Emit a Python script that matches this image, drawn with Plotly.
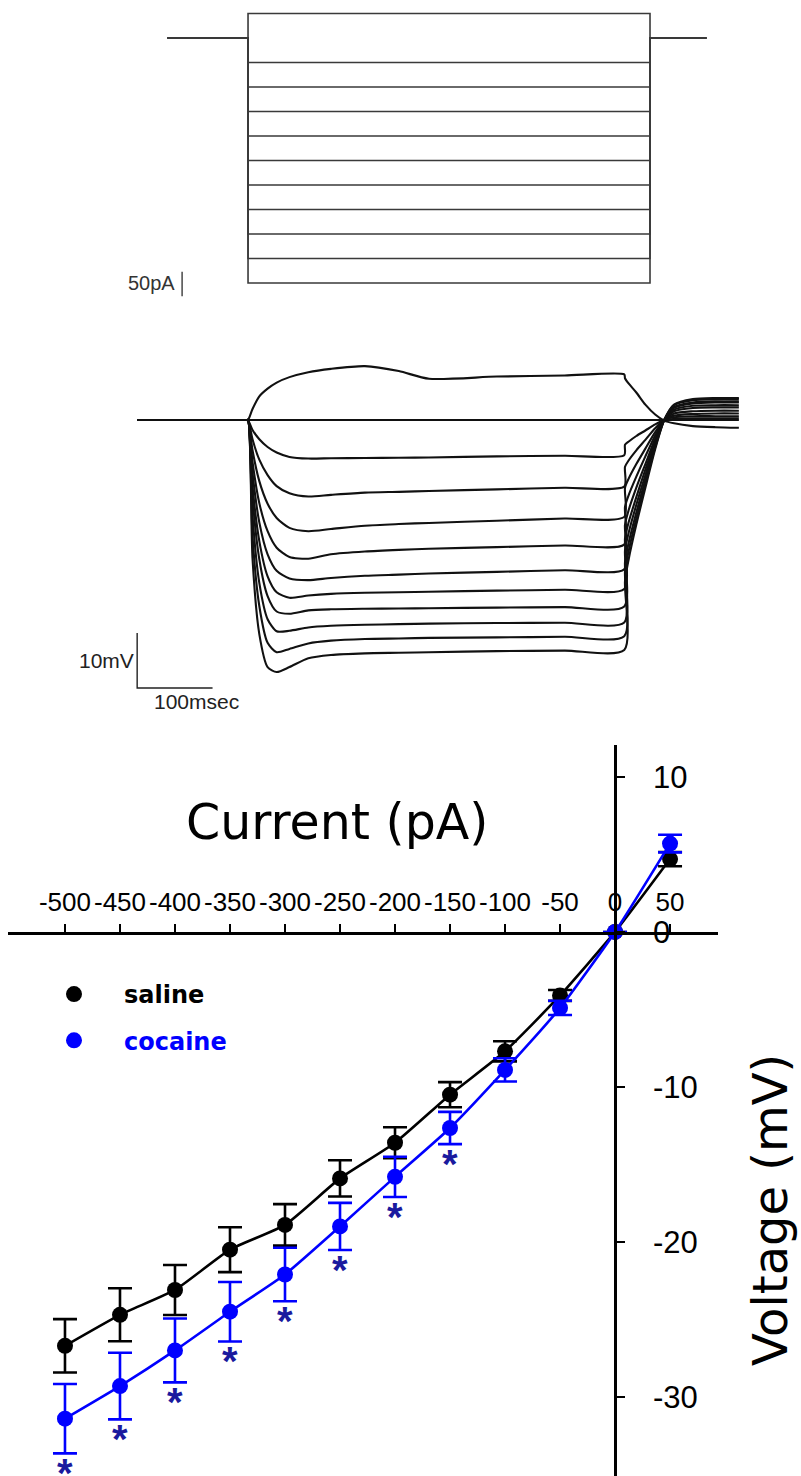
import plotly.graph_objects as go

W, H = 801, 1476

# ---------------- current-step protocol ----------------
step_pA = [50, -50, -100, -150, -200, -250, -300, -350, -400, -450, -500]
step_t_ms = [-100, 0, 0, 500, 500, 570]

# ---------------- voltage responses (mV from rest) ----------------
trace_t_ms = [-147, -2, 0, 6, 15, 26, 38, 55, 80, 110, 155, 200, 240, 330, 420, 499,
              500, 505, 515, 527, 540, 552, 565, 590, 620, 651]
v_p50 = [0, 0, 0, 2.0, 4.3, 5.7, 6.8, 7.8, 8.7, 9.3, 9.8, 8.9, 7.5, 7.9, 8.1, 8.3,
         7.6, 6.6, 5.0, 2.8, 1.0, -0.1, -0.6, -1.1, -1.3, -1.4]
v_0 = [0] * 26
v_m50 = [0, 0, 0, -1.8, -3.5, -4.9, -5.9, -6.7, -7.0, -6.95, -6.9, -6.85, -6.8, -6.6, -6.5, -6.4,
         -4.5, -3.9, -2.9, -1.9, -0.8, 0, 0.2, 0.3, 0.3, 0.3]
v_m100 = [0, 0, 0, -3.5, -7.2, -10.0, -12.0, -13.3, -13.9, -13.6, -13.2, -13.05, -12.9, -12.6, -12.3, -12.1,
          -8.5, -7.3, -5.5, -3.6, -1.5, 0, 0.5, 0.7, 0.7, 0.7]
v_m150 = [0, 0, 0, -5.5, -11.1, -15.2, -17.8, -19.6, -20.2, -19.8, -19.2, -18.9, -18.7, -18.3, -17.9, -17.6,
          -12.3, -10.6, -8.0, -5.2, -2.2, 0, 0.8, 1.1, 1.2, 1.2]
v_m200 = [0, 0, 0, -7.6, -15.1, -20.2, -23.2, -24.9, -25.2, -24.4, -23.9, -23.6, -23.4, -23.1, -22.8, -22.6,
          -15.8, -13.6, -10.3, -6.6, -2.8, 0, 1.2, 1.6, 1.7, 1.7]
v_m250 = [0, 0, 0, -9.6, -18.6, -24.4, -27.4, -28.8, -29.1, -28.7, -28.3, -28.1, -27.9, -27.6, -27.3, -27.1,
          -19.0, -16.3, -12.3, -8.0, -3.4, 0, 1.6, 2.2, 2.3, 2.3]
v_m300 = [0, 0, 0, -12.0, -22.0, -28.4, -31.3, -32.3, -31.9, -31.6, -31.4, -31.3, -31.2, -31.0, -30.85, -30.7,
          -21.5, -18.5, -14.0, -9.0, -3.9, 0, 1.9, 2.6, 2.7, 2.7]
v_m350 = [0, 0, 0, -14.1, -25.3, -32.0, -34.8, -35.2, -34.6, -34.4, -34.3, -34.25, -34.2, -34.1, -34.0, -33.9,
          -23.7, -20.4, -15.4, -10.0, -4.3, 0, 2.2, 3.0, 3.2, 3.2]
v_m400 = [0, 0, 0, -17.3, -29.6, -36.2, -38.4, -38.3, -37.7, -37.4, -37.2, -37.1, -37.0, -36.9, -36.85, -36.8,
          -25.8, -22.2, -16.8, -10.8, -4.6, 0, 2.4, 3.2, 3.4, 3.4]
v_m450 = [0, 0, 0, -21.1, -33.8, -40.5, -42.2, -41.6, -40.6, -40.1, -39.8, -39.7, -39.6, -39.5, -39.4, -39.3,
          -27.5, -23.7, -17.9, -11.6, -5.0, 0, 2.7, 3.6, 3.8, 3.8]
v_m500 = [0, 0, 0, -25.2, -38.9, -44.9, -45.8, -44.9, -43.3, -42.7, -42.4, -42.3, -42.2, -42.0, -41.9, -41.8,
          -29.3, -25.2, -19.0, -12.3, -5.3, 0, 2.8, 3.8, 4.0, 4.0]
voltage_traces = [v_p50, v_0, v_m50, v_m100, v_m150, v_m200, v_m250,
                  v_m300, v_m350, v_m400, v_m450, v_m500]

# scale bars
bar_pA = 50
bar_mV = 10
bar_ms = 100

# ---------------- I-V summary (mean ± SEM) ----------------
current_pA = [-500, -450, -400, -350, -300, -250, -200, -150, -100, -50, 0, 50]
saline_mV = [-26.7, -24.7, -23.1, -20.5, -18.9, -15.9, -13.6, -10.5, -7.7, -4.1, 0.0, 4.7]
saline_sem = [1.72, 1.71, 1.61, 1.45, 1.34, 1.17, 1.0, 0.81, 0.65, 0.35, 0.0, 0.46]
cocaine_mV = [-31.4, -29.3, -27.0, -24.5, -22.1, -19.0, -15.8, -12.65, -8.9, -4.9, 0.0, 5.7]
cocaine_sem = [2.24, 2.15, 2.06, 1.92, 1.73, 1.52, 1.30, 1.04, 0.75, 0.46, 0.0, 0.57]
signif_pA = [-500, -450, -400, -350, -300, -250, -200, -150]
x_ticks = [-500, -450, -400, -350, -300, -250, -200, -150, -100, -50, 0, 50]
y_ticks = [10, 0, -10, -20, -30]

BLUE = "#0000ff"
STAR = "#1a1a9e"
TITLE_FONT = "DejaVu Sans"
TICK_FONT = "Liberation Sans, Arial, sans-serif"


def pyf(px):
    """pixel row -> paper fraction"""
    return 1 - px / H


fig = go.Figure()

# protocol
for amp in step_pA:
    fig.add_trace(go.Scatter(
        x=step_t_ms, y=[0, 0, amp, amp, 0, 0], mode="lines",
        line=dict(color="#3a3a3a", width=1.6), xaxis="x", yaxis="y",
        showlegend=False, hoverinfo="skip"))
fig.add_trace(go.Scatter(
    x=[-82, -82], y=[-477, -477 - bar_pA], mode="lines",
    line=dict(color="#3a3a3a", width=1.4), xaxis="x", yaxis="y",
    showlegend=False, hoverinfo="skip"))

# voltage traces
for v in voltage_traces:
    fig.add_trace(go.Scatter(
        x=trace_t_ms, y=v, mode="lines",
        line=dict(color="#111111", width=2.1, shape="spline", smoothing=0.7),
        xaxis="x2", yaxis="y2", showlegend=False, hoverinfo="skip"))
bar_t0, bar_v0 = -147, -48.7
fig.add_trace(go.Scatter(
    x=[bar_t0, bar_t0, bar_t0 + bar_ms], y=[bar_v0 + bar_mV, bar_v0, bar_v0],
    mode="lines", line=dict(color="#222222", width=1.4),
    xaxis="x2", yaxis="y2", showlegend=False, hoverinfo="skip"))

# I-V curves
for name, ys, err, col in [("saline", saline_mV, saline_sem, "#000000"),
                           ("cocaine", cocaine_mV, cocaine_sem, BLUE)]:
    fig.add_trace(go.Scatter(
        x=current_pA, y=ys, mode="lines",
        line=dict(color=col, width=2.6, shape="spline", smoothing=0.5),
        xaxis="x3", yaxis="y3", showlegend=False, hoverinfo="skip"))
    fig.add_trace(go.Scatter(
        x=current_pA, y=ys, mode="markers",
        marker=dict(color=col, size=16),
        error_y=dict(type="data", array=err, color=col, thickness=2.6, width=12),
        xaxis="x3", yaxis="y3", legendgroup=name,
        name=f"<b><span style='color:{col}'>{name}</span></b>",
        hoverinfo="skip"))

annotations = []
for xv in signif_pA:
    i = current_pA.index(xv)
    annotations.append(dict(
        x=xv, y=cocaine_mV[i] - cocaine_sem[i], xref="x3", yref="y3",
        text="<b>*</b>", showarrow=False, yanchor="middle", yshift=-20,
        font=dict(family=TICK_FONT, size=40, color=STAR)))

annotations += [
    dict(x=-82, y=-500, xref="x", yref="y", text="50pA", showarrow=False,
         xanchor="right", xshift=-5, font=dict(family=TICK_FONT, size=20, color="#333")),
    dict(x=bar_t0, y=bar_v0 + bar_mV / 2, xref="x2", yref="y2", text="10mV",
         showarrow=False, xanchor="right", xshift=-1,
         font=dict(family=TICK_FONT, size=21, color="#222")),
    dict(x=bar_t0 + 20, y=bar_v0, xref="x2", yref="y2", text="100msec",
         showarrow=False, xanchor="left", yanchor="top", yshift=0,
         font=dict(family=TICK_FONT, size=21, color="#222")),
    dict(x=337 / W, y=pyf(822), xref="paper", yref="paper", text="Current (pA)",
         showarrow=False, xanchor="center", yanchor="middle",
         font=dict(family=TITLE_FONT, size=49, color="#000")),
    dict(x=770 / W, y=pyf(1210), xref="paper", yref="paper", text="Voltage (mV)",
         showarrow=False, textangle=-90, xanchor="center", yanchor="middle",
         font=dict(family=TITLE_FONT, size=48, color="#000")),
]

hidden = dict(visible=False, fixedrange=True)
fig.update_layout(
    width=W, height=H, margin=dict(l=0, r=0, t=0, b=0),
    paper_bgcolor="white", plot_bgcolor="rgba(0,0,0,0)",
    xaxis=dict(domain=[0, 1], range=[-308.5, 687.8], **hidden),
    yaxis=dict(domain=[pyf(300), 1], range=[-534.7, 77.55], **hidden),
    xaxis2=dict(domain=[0, 1], range=[-328.9, 733.4], anchor="y2", **hidden),
    yaxis2=dict(domain=[pyf(710), pyf(350)], range=[-52.7, 12.73], anchor="x2", **hidden),
    xaxis3=dict(domain=[8 / W, 718 / W], range=[-551.8, 93.6],
                anchor="free", position=pyf(932.5), side="top",
                showline=True, linecolor="#000", linewidth=2.6,
                showgrid=False, zeroline=False,
                ticks="outside", ticklen=8, tickwidth=2, tickcolor="#000",
                tickvals=x_ticks, ticktext=[str(v) for v in x_ticks],
                tickangle=0, ticklabelstandoff=2,
                tickfont=dict(family=TICK_FONT, size=26, color="#000"),
                fixedrange=True),
    yaxis3=dict(domain=[0, pyf(745)], range=[-35.1, 12.06],
                anchor="free", position=615 / W, side="right",
                showline=True, linecolor="#000", linewidth=2.6,
                showgrid=False, zeroline=False,
                ticks="outside", ticklen=8, tickwidth=2, tickcolor="#000",
                tickvals=y_ticks, ticktext=[str(v) for v in y_ticks],
                ticklabelstandoff=22,
                tickfont=dict(family=TICK_FONT, size=31, color="#000"),
                fixedrange=True),
    showlegend=True,
    legend=dict(x=24 / W, y=pyf(972), xanchor="left", yanchor="top",
                bgcolor="rgba(0,0,0,0)", itemwidth=90, tracegroupgap=12,
                font=dict(family=TITLE_FONT, size=24, color="#000")),
    annotations=annotations,
)

fig.write_html("out.html")
